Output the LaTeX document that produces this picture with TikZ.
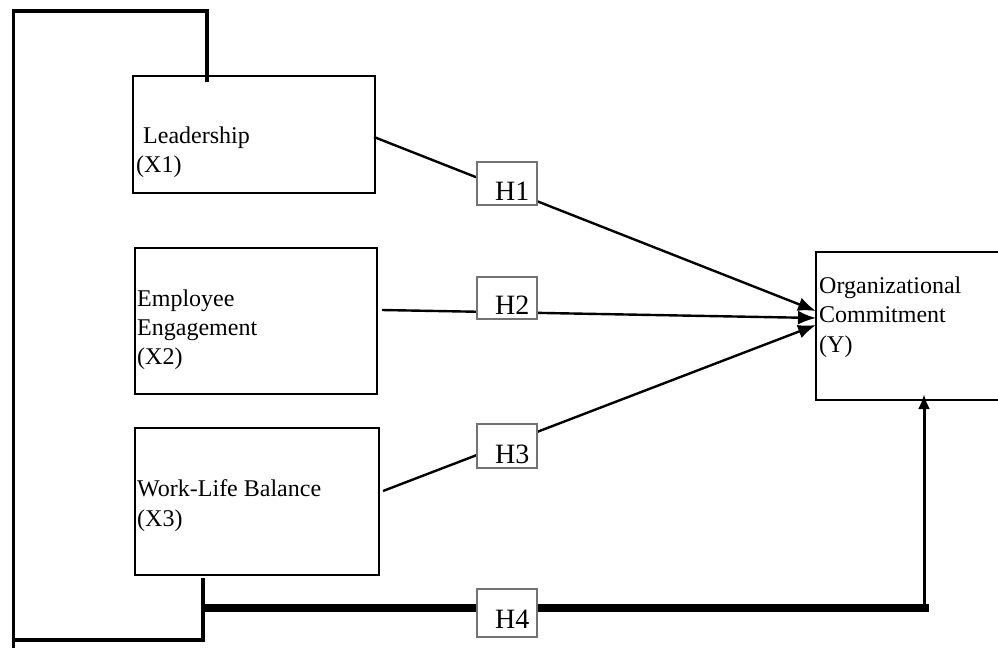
\documentclass[tikz,border=0pt]{standalone}
\usepackage{fontspec}
\setmainfont{Liberation Serif}
\usetikzlibrary{arrows.meta}
\begin{document}
\begin{tikzpicture}[x=1pt,y=-1pt,
 box/.style={draw, line width=2pt, anchor=north west, inner sep=0pt, outer sep=0pt},
 hbox/.style={draw=black!55, line width=1.1pt, fill=white, anchor=north west, inner sep=0pt, outer sep=0pt, minimum width=60pt},
 txt/.style={anchor=base west, inner sep=0pt, font=\fontsize{24}{29}\selectfont},
 htxt/.style={anchor=base west, inner sep=0pt, font=\fontsize{28}{32}\selectfont},
 conn/.style={line width=2.4pt},
 arr/.style={conn, -{Latex[length=18pt,width=14pt]}},
 looppath/.style={line width=3.6pt},
 thickpath/.style={line width=8pt}]
\useasboundingbox (0,0) rectangle (998,648);
\fill[white] (0,0) rectangle (998,648);

% main boxes
\node[box, minimum width=242pt, minimum height=117pt] (lead) at (133,76) {};
\node[box, minimum width=242pt, minimum height=146pt] (eng) at (135,248) {};
\node[box, minimum width=244pt, minimum height=147pt] (wlb) at (135,428) {};
\node[box, minimum width=190pt, minimum height=148pt] (org) at (816,252) {};

% texts
\node[txt] (leadA) at (143,143) {Leadership};
\node[txt] (leadB) at (136,172) {(X1)};
\node[txt] (engA) at (137,306) {Employee};
\node[txt] (engB) at (137,335) {Engagement};
\node[txt] (engC) at (137,364) {(X2)};
\node[txt] (wlbA) at (137,496) {Work-Life Balance};
\node[txt] (wlbB) at (137,526) {(X3)};
\node[txt] (orgA) at (819,293) {Organizational};
\node[txt] (orgB) at (819,322) {Commitment};
\node[txt] (orgC) at (819,352) {(Y)};

% connector end points
\coordinate (s1) at (374,137);
\coordinate (s2) at (382,310);
\coordinate (s3) at (383,491);
\coordinate (t1) at (816,311);
\coordinate (t2) at (816,318);
\coordinate (t3) at (816,325);

\draw[arr] (s1) -- (t1);
\draw[arr] (s2) -- (t2);
\draw[arr] (s3) -- (t3);

% outer loop from Leadership to Work-Life Balance
\coordinate (lt) at (207,82);
\coordinate (c1) at (207,11);
\coordinate (c2) at (13.5,11);
\coordinate (c3) at (13.5,640);
\coordinate (c4) at (203,640);
\coordinate (wb) at (203,578);
\coordinate (c5) at (13.5,648);
\draw[looppath] (lt) -- (c1) -- (c2) -- (c3) -- (c4) -- (wb);
\draw[looppath] (c3) -- (c5);

% H4 path
\coordinate (b0) at (203,608);
\coordinate (b1) at (929,608);
\coordinate (b2) at (924,608);
\coordinate (b3) at (924,394);
\draw[thickpath] (b0) -- (b1);
\draw[line width=3pt, -{Latex[length=15pt,width=12pt]}] (b2) -- (b3);

% hypothesis boxes
\node[hbox, minimum height=43pt] (h1) at (477,162) {};
\node[hbox, minimum height=42pt] (h2) at (477,277) {};
\node[hbox, minimum height=44pt] (h3) at (477,424) {};
\node[hbox, minimum height=48pt] (h4) at (477,589) {};
\node[htxt] (h1t) at (495,200) {H1};
\node[htxt] (h2t) at (495,314) {H2};
\node[htxt] (h3t) at (495,463) {H3};
\node[htxt] (h4t) at (495,628) {H4};
\end{tikzpicture}
\end{document}
